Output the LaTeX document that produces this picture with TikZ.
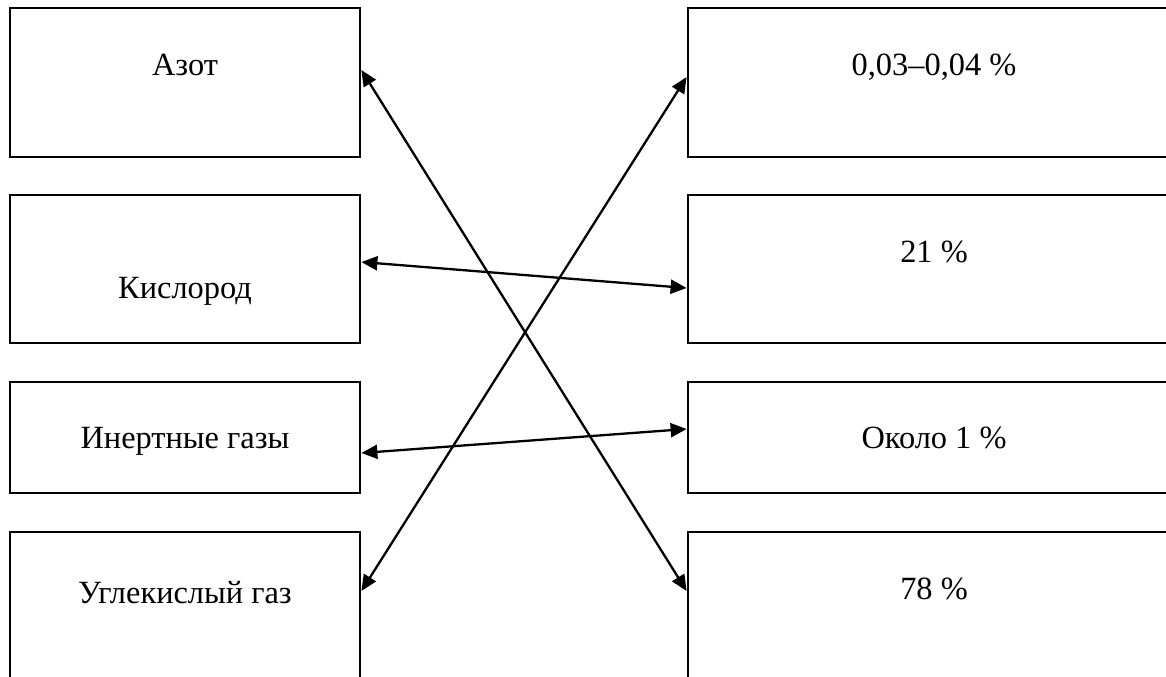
\documentclass[tikz,border=0pt]{standalone}
\usepackage{fontspec}
\setmainfont{Liberation Serif}
\usetikzlibrary{positioning, arrows.meta}
\tikzset{
    gasbox/.style={rectangle, draw, line width=1.4pt, minimum width=175pt, inner sep=0pt},
    valbox/.style={rectangle, draw, line width=1.4pt, minimum width=246pt, inner sep=0pt},
    boxtext/.style={anchor=base, inner sep=0pt},
    link/.style={{Triangle[length=8pt,width=7pt]}-{Triangle[length=8pt,width=7pt]}, line width=1.15pt}
}

\begin{document}
\begin{tikzpicture}[x=0.5pt, y=-0.5pt, font=\fontsize{16.2}{19}\selectfont]
    \useasboundingbox (0,0) rectangle (1166,676);
    \clip (0,0) rectangle (1166,676);
    % gases
    \node (azot)   at (185,82.5)  [gasbox, minimum height=74.5pt] {};
    \node (kisl)   at (185,269)   [gasbox, minimum height=74pt] {};
    \node (inert)  at (185,437.5) [gasbox, minimum height=55.5pt] {};
    \node (uglek)  at (185,606)   [gasbox, minimum height=74pt] {};
    \node (azottext)  at (185,75)  [boxtext] {Азот};
    \node (kisltext)  at (185,298) [boxtext] {Кислород};
    \node (inerttext) at (185,448) [boxtext] {Инертные газы};
    \node (uglektext) at (185,603) [boxtext] {Углекислый газ};
    % shares
    \node (share1) at (934,82.5)  [valbox, minimum height=74.5pt] {};
    \node (share2) at (934,269)   [valbox, minimum height=74pt] {};
    \node (share3) at (934,437.5) [valbox, minimum height=55.5pt] {};
    \node (share4) at (934,606)   [valbox, minimum height=74pt] {};
    \node (share1text) at (934,75)  [boxtext] {0,03--0,04 \%};
    \node (share2text) at (934,262) [boxtext] {21 \%};
    \node (share3text) at (934,448) [boxtext] {Около 1 \%};
    \node (share4text) at (934,599) [boxtext] {78 \%};
    % links
    \draw[link] ([yshift=6.25pt]azot.east)  -- ([yshift=7.5pt]share4.west);
    \draw[link] ([yshift=3.5pt]kisl.east)   -- ([yshift=-9.5pt]share2.west);
    \draw[link] ([yshift=-7.75pt]inert.east) -- ([yshift=4.25pt]share3.west);
    \draw[link] ([yshift=7.5pt]uglek.east)  -- ([yshift=2.75pt]share1.west);
\end{tikzpicture}
\end{document}
